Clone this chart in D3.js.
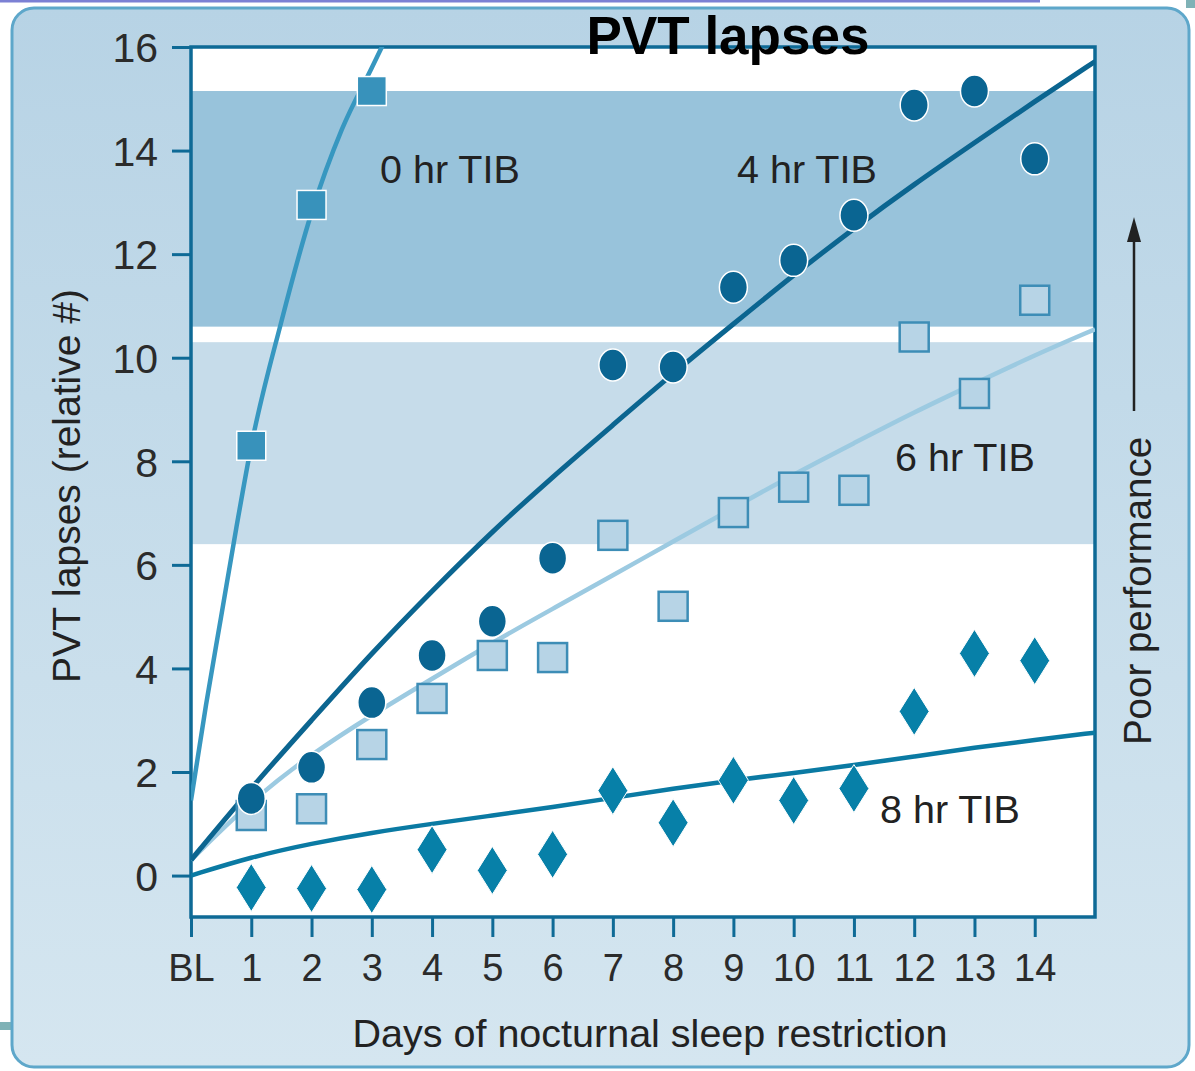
<!DOCTYPE html>
<html>
<head>
<meta charset="utf-8">
<script src="https://cdn.jsdelivr.net/npm/d3@7"></script>
<style>
  body { margin: 0; background: #fff; }
  text { font-family: "Liberation Sans", Arial, sans-serif; }
</style>
</head>
<body>
<script>
// ---- data ----
var dayTicks = [0, 1, 2, 3, 4, 5, 6, 7, 8, 9, 10, 11, 12, 13, 14];
var dayTickLabels = ['BL', '1', '2', '3', '4', '5', '6', '7', '8', '9', '10', '11', '12', '13', '14'];
var lapseTicks = [0, 2, 4, 6, 8, 10, 12, 14, 16];

var days = [1, 2, 3, 4, 5, 6, 7, 8, 9, 10, 11, 12, 13, 14];
var tib0 = [8.3, 12.95, 15.15];
var tib4 = [1.49, 2.09, 3.34, 4.25, 4.91, 6.13, 9.86, 9.82, 11.36, 11.88, 12.75, 14.88, 15.15, 13.84];
var tib6 = [1.16, 1.29, 2.53, 3.42, 4.25, 4.21, 6.57, 5.2, 7.01, 7.5, 7.44, 10.4, 9.31, 11.11];
var tib8 = [-0.23, -0.25, -0.27, 0.5, 0.1, 0.41, 1.64, 1.02, 1.84, 1.45, 1.68, 3.17, 4.29, 4.15];

// fitted curves, points
var fitDays0 = [0, 0.25, 0.5, 0.75, 1, 1.5, 2, 2.5, 3, 3.25];
var fit0 = [1.45, 3.3, 5.0, 6.7, 8.3, 10.7, 12.8, 14.4, 15.6, 16.2];
var fitDays = [0, 1, 2, 3, 4, 5, 6, 7, 8, 9, 10, 11, 12, 13, 14, 15];
var fit4 = [0.3, 1.7, 3.0, 4.3, 5.5, 6.65, 7.7, 8.7, 9.7, 10.65, 11.6, 12.5, 13.35, 14.15, 14.95, 15.72];
var fit6 = [0.3, 1.45, 2.35, 3.1, 3.8, 4.5, 5.15, 5.8, 6.45, 7.1, 7.75, 8.35, 8.95, 9.5, 10.05, 10.55];
var fit8 = [0, 0.36, 0.62, 0.83, 1.0, 1.16, 1.32, 1.5, 1.68, 1.84, 1.98, 2.13, 2.3, 2.47, 2.62, 2.76];

// performance bands (lapses from..to)
var bandLow = [10.6, 6.4];
var bandHigh = [15.15, 10.3];
var bandColors = ['#98c3db', '#c6dcea'];

var W = 1195, H = 1071;
var plotL = 191, plotT = 47, plotR = 1095, plotB = 917;

var svg = d3.select('body').append('svg').attr('width', W).attr('height', H);
var defs = svg.append('defs');

var grad = defs.append('linearGradient').attr('id', 'panelGrad')
  .attr('x1', 0).attr('y1', 0).attr('x2', 0).attr('y2', 1);
grad.append('stop').attr('offset', '0%').attr('stop-color', '#b7d3e5');
grad.append('stop').attr('offset', '100%').attr('stop-color', '#d5e6f0');

defs.append('clipPath').attr('id', 'plotClip').append('rect')
  .attr('x', plotL).attr('y', plotT).attr('width', plotR - plotL).attr('height', plotB - plotT);

// stray bits at the page edges
svg.append('line').attr('x1', 0).attr('y1', 1).attr('x2', 1040).attr('y2', 1)
  .attr('style', 'stroke:#7c80d4; stroke-width:3;');
svg.append('rect').attr('x', 0).attr('y', 1022).attr('width', 12).attr('height', 8).attr('fill', '#7fb2b6');
svg.append('rect').attr('x', 1186).attr('y', 0).attr('width', 9).attr('height', 8).attr('fill', '#7fb2b6');

// outer panel
svg.append('rect').attr('x', 12).attr('y', 8).attr('width', 1177).attr('height', 1059)
  .attr('rx', 22).attr('fill', 'url(#panelGrad)').attr('stroke', '#5ea7ca').attr('stroke-width', 3);

var x = d3.scaleLinear().domain([0, 15]).range([plotL, plotR]);
var y = d3.scaleLinear().domain([-0.8, 16]).range([plotB, plotT]);

// plot background + bands
svg.append('rect').attr('x', plotL).attr('y', plotT).attr('width', plotR - plotL).attr('height', plotB - plotT)
  .attr('fill', '#fff');
svg.selectAll('.band').data(bandLow).enter().append('rect')
  .attr('x', plotL).attr('width', plotR - plotL)
  .attr('y', function(d, i) { return y(bandHigh[i]); })
  .attr('height', function(d, i) { return y(d) - y(bandHigh[i]); })
  .attr('fill', function(d, i) { return bandColors[i]; });

// axes
var axisColor = '#0e6a96';
var yAxis = svg.append('g').attr('transform', 'translate(' + plotL + ',0)')
  .call(d3.axisLeft(y).tickValues(lapseTicks).tickSize(19).tickPadding(14));
var xAxis = svg.append('g').attr('transform', 'translate(0,' + plotB + ')')
  .call(d3.axisBottom(x).tickValues(dayTicks).tickSize(20).tickPadding(17)
    .tickFormat(function(d, i) { return dayTickLabels[i]; }));
[yAxis, xAxis].forEach(function(g) {
  g.select('.domain').remove();
  g.selectAll('line').attr('stroke', axisColor).attr('stroke-width', 3);
  g.selectAll('text').attr('fill', '#2b2b2b')
    .style('font-family', '"Liberation Sans", Arial, sans-serif');
});
yAxis.selectAll('text').attr('dy', '0.36em').style('font-size', '41px');
xAxis.selectAll('text').style('font-size', '38px');

// frame
svg.append('rect').attr('x', plotL).attr('y', plotT).attr('width', plotR - plotL).attr('height', plotB - plotT)
  .attr('fill', 'none').attr('stroke', axisColor).attr('stroke-width', 3.5);

// fitted curves
var plot = svg.append('g').attr('clip-path', 'url(#plotClip)');
var addCurve = function(xs, ys, color, w, curve) {
  var pts = xs.map(function(d, i) { return [d, ys[i]]; });
  plot.append('path').datum(pts)
    .attr('d', d3.line().x(function(d) { return x(d[0]); }).y(function(d) { return y(d[1]); })
      .curve(curve))
    .attr('style', 'fill:none; stroke:' + color + '; stroke-width:' + w + ';');
};
addCurve(fitDays, fit8, '#0a7aa3', 4.5, d3.curveBasis);
addCurve(fitDays, fit6, '#9ccae1', 4.5, d3.curveBasis);
addCurve(fitDays, fit4, '#0b6590', 5, d3.curveBasis);
addCurve(fitDays0, fit0, '#3797c0', 4.5, d3.curveMonotoneX);

// 8 hr diamonds
var diamond = function(cx, cy) {
  return 'M' + cx + ',' + (cy - 24) + 'L' + (cx + 15) + ',' + cy + 'L' + cx + ',' + (cy + 24) +
    'L' + (cx - 15) + ',' + cy + 'Z';
};
svg.selectAll('.d8').data(tib8).enter().append('path')
  .attr('d', function(d, i) { return diamond(x(days[i]), y(d)); })
  .attr('fill', '#0780a8').attr('stroke', '#fff').attr('stroke-width', 1);

// 6 hr squares
svg.selectAll('.s6').data(tib6).enter().append('rect')
  .attr('x', function(d, i) { return x(days[i]) - 14.5; })
  .attr('y', function(d) { return y(d) - 14.5; })
  .attr('width', 29).attr('height', 29)
  .attr('fill', '#b7d4e6').attr('stroke', '#3d8db6').attr('stroke-width', 2.5);

// 4 hr circles
svg.selectAll('.c4').data(tib4).enter().append('ellipse')
  .attr('cx', function(d, i) { return x(days[i]); })
  .attr('cy', function(d) { return y(d); })
  .attr('rx', 14).attr('ry', 16)
  .attr('fill', '#0a6592').attr('stroke', '#fff').attr('stroke-width', 1.5);

// 0 hr squares
svg.selectAll('.s0').data(tib0).enter().append('rect')
  .attr('x', function(d, i) { return x(days[i]) - 14.5; })
  .attr('y', function(d) { return y(d) - 14.5; })
  .attr('width', 29).attr('height', 29)
  .attr('fill', '#3892bb').attr('stroke', '#fff').attr('stroke-width', 1.5);

// series labels
var labelStyle = 'font-size:39.5px; fill:#222;';
var seriesLabels = [['0 hr TIB', 380, 183], ['4 hr TIB', 737, 183], ['6 hr TIB', 895, 471], ['8 hr TIB', 880, 823]];
seriesLabels.forEach(function(l) {
  svg.append('text').attr('x', l[1]).attr('y', l[2]).attr('style', labelStyle).text(l[0]);
});

// axis titles
svg.append('text').attr('transform', 'translate(80,486) rotate(-90)')
  .attr('text-anchor', 'middle').attr('style', 'font-size:39px; fill:#222;')
  .text('PVT lapses (relative #)');
svg.append('text').attr('x', 650).attr('y', 1047)
  .attr('text-anchor', 'middle').attr('style', 'font-size:39.5px; fill:#222;')
  .text('Days of nocturnal sleep restriction');

// right side: poor performance arrow
svg.append('text').attr('transform', 'translate(1151,591) rotate(-90)')
  .attr('text-anchor', 'middle').attr('style', 'font-size:38.5px; fill:#222;')
  .text('Poor performance');
svg.append('line').attr('x1', 1134).attr('y1', 411).attr('x2', 1134).attr('y2', 236)
  .attr('style', 'stroke:#222; stroke-width:2.5;');
svg.append('path').attr('d', 'M1134,217 L1141,242 L1127,242 Z').attr('fill', '#222');

// title
svg.append('text').attr('x', 728).attr('y', 54).attr('text-anchor', 'middle')
  .attr('style', 'font-size:53px; font-weight:bold; fill:#000;').text('PVT lapses');
</script>
</body>
</html>
